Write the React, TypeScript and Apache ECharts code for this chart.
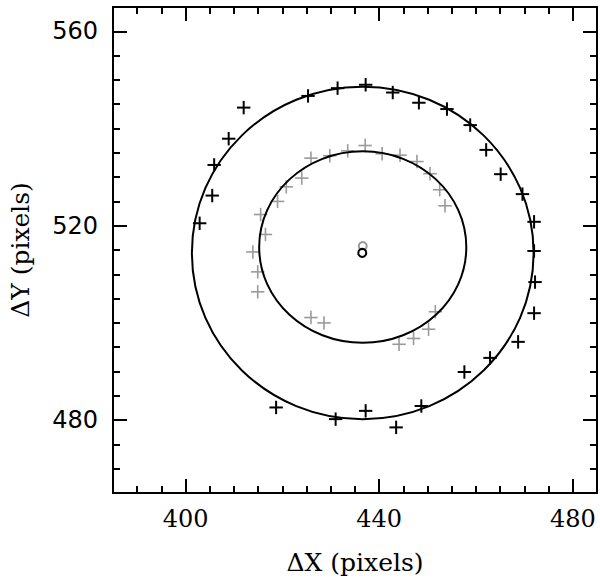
import React, { useEffect, useRef } from 'react';
import * as echarts from 'echarts';

const xRange = [385, 485];
const yRange = [465, 565];
const xMajorTicks = [400, 440, 480];
const yMajorTicks = [480, 520, 560];

// black "+" points (outer ring)
const outerPoints = [
  [402.9, 520.5], [405.5, 526.2], [405.9, 532.5], [408.9, 537.9], [412.0, 544.3],
  [425.3, 546.7], [431.4, 548.3], [437.2, 549.0], [442.8, 547.4], [448.2, 545.3],
  [454.0, 544.0], [458.8, 540.7], [462.1, 535.6], [465.1, 530.6], [469.6, 526.5],
  [472.0, 520.8], [472.0, 514.8], [472.2, 508.4], [472.0, 502.0], [468.7, 496.1],
  [462.9, 492.8], [457.6, 489.9], [448.7, 482.9], [443.5, 478.5], [437.2, 481.9],
  [431.0, 480.2], [418.7, 482.6],
];

// grey "+" points (inner ring)
const innerPoints = [
  [413.9, 514.6], [416.5, 518.2], [415.5, 522.3], [419.0, 525.0], [420.8, 528.0],
  [424.0, 529.8], [425.9, 533.9], [429.8, 534.4], [433.5, 535.4], [437.1, 536.5],
  [440.6, 534.8], [444.3, 534.5], [447.8, 533.2], [450.5, 530.7], [452.5, 527.4],
  [453.6, 524.1], [451.6, 502.3], [450.2, 498.7], [447.1, 496.8], [444.1, 495.6],
  [428.6, 500.0], [425.9, 501.1], [414.9, 506.4], [414.9, 510.5],
];

const centerOuter = [[436.5, 514.4]];
const centerInner = [[436.6, 515.8]];

// fitted ellipses: cx, cy, rx, ry (data units)
const ellipseOuter = [[436.6, 514.4, 35.3, 34.2]];
const ellipseInner = [[436.6, 515.6, 21.4, 19.7]];

const SERIF = 'DejaVu Serif';
const SANS = 'DejaVu Sans';

function plusSeries(data: number[][], color: string, width: number) {
  return {
    type: 'custom',
    data,
    encode: { x: 0, y: 1 },
    renderItem: (params: any, api: any) => {
      const p = api.coord([api.value(0), api.value(1)]);
      const h = 6.7;
      return {
        type: 'group',
        children: [
          { type: 'line', shape: { x1: p[0] - h, y1: p[1], x2: p[0] + h, y2: p[1] }, style: { stroke: color, lineWidth: width } },
          { type: 'line', shape: { x1: p[0], y1: p[1] - h, x2: p[0], y2: p[1] + h }, style: { stroke: color, lineWidth: width } },
        ],
      };
    },
    z: 3,
  };
}

function ellipseSeries(data: number[][]) {
  return {
    type: 'custom',
    data,
    encode: { x: 0, y: 1 },
    renderItem: (params: any, api: any) => {
      const c = api.coord([api.value(0), api.value(1)]);
      const s = api.size([api.value(2), api.value(3)]);
      return {
        type: 'ellipse',
        shape: { cx: c[0], cy: c[1], rx: s[0], ry: s[1] },
        style: { fill: 'none', stroke: '#000', lineWidth: 2 },
      };
    },
    z: 4,
  };
}

function circleSeries(data: number[][], color: string) {
  return {
    type: 'custom',
    data,
    encode: { x: 0, y: 1 },
    renderItem: (params: any, api: any) => {
      const c = api.coord([api.value(0), api.value(1)]);
      return {
        type: 'circle',
        shape: { cx: c[0], cy: c[1], r: 4 },
        style: { fill: '#fff', stroke: color, lineWidth: 2 },
      };
    },
    z: 5,
  };
}

function xAxes() {
  const common = { type: 'value', min: xRange[0], max: xRange[1], splitLine: { show: false }, gridIndex: 0 };
  return [
    {
      ...common, position: 'bottom', interval: 5,
      axisLine: { show: true, lineStyle: { color: '#000', width: 2 } },
      axisTick: { show: true, inside: true, length: 7, lineStyle: { color: '#000', width: 2 } },
      axisLabel: {
        show: true, margin: 14, fontFamily: SERIF, fontSize: 24, color: '#000',
        formatter: (v: number) => (xMajorTicks.includes(v) ? String(v) : ''),
      },
      name: 'ΔX (pixels)', nameLocation: 'middle', nameGap: 57,
      nameTextStyle: { fontFamily: SERIF, fontSize: 25, color: '#000' },
    },
    {
      ...common, position: 'bottom',
      axisLine: { show: false },
      axisTick: { show: true, inside: true, length: 14, customValues: xMajorTicks, lineStyle: { color: '#000', width: 2 } },
      axisLabel: { show: false },
    },
    {
      ...common, position: 'top', interval: 5,
      axisLine: { show: true, lineStyle: { color: '#000', width: 2 } },
      axisTick: { show: true, inside: true, length: 7, lineStyle: { color: '#000', width: 2 } },
      axisLabel: { show: false },
    },
    {
      ...common, position: 'top',
      axisLine: { show: false },
      axisTick: { show: true, inside: true, length: 14, customValues: xMajorTicks, lineStyle: { color: '#000', width: 2 } },
      axisLabel: { show: false },
    },
  ];
}

function yAxes() {
  const common = { type: 'value', min: yRange[0], max: yRange[1], splitLine: { show: false }, gridIndex: 0 };
  return [
    {
      ...common, position: 'left', interval: 5,
      axisLine: { show: true, lineStyle: { color: '#000', width: 2 } },
      axisTick: { show: true, inside: true, length: 7, lineStyle: { color: '#000', width: 2 } },
      axisLabel: {
        show: true, margin: 15, fontFamily: SANS, fontSize: 24, color: '#000',
        formatter: (v: number) => (yMajorTicks.includes(v) ? String(v) : ''),
      },
      name: 'ΔY (pixels)', nameLocation: 'middle', nameGap: 80,
      nameTextStyle: { fontFamily: SERIF, fontSize: 25, color: '#000' },
    },
    {
      ...common, position: 'left',
      axisLine: { show: false },
      axisTick: { show: true, inside: true, length: 14, customValues: yMajorTicks, lineStyle: { color: '#000', width: 2 } },
      axisLabel: { show: false },
    },
    {
      ...common, position: 'right', interval: 5,
      axisLine: { show: true, lineStyle: { color: '#000', width: 2 } },
      axisTick: { show: true, inside: true, length: 7, lineStyle: { color: '#000', width: 2 } },
      axisLabel: { show: false },
    },
    {
      ...common, position: 'right',
      axisLine: { show: false },
      axisTick: { show: true, inside: true, length: 14, customValues: yMajorTicks, lineStyle: { color: '#000', width: 2 } },
      axisLabel: { show: false },
    },
  ];
}

export default function App() {
  const ref = useRef<HTMLDivElement>(null);
  useEffect(() => {
    if (!ref.current) return;
    const chart = echarts.init(ref.current, undefined, { renderer: 'svg' });
    chart.setOption({
      animation: false,
      backgroundColor: '#fff',
      grid: { left: 111, top: 7, width: 486, height: 486, containLabel: false },
      xAxis: xAxes(),
      yAxis: yAxes(),
      series: [
        plusSeries(innerPoints, '#9a9a9a', 1.6),
        plusSeries(outerPoints, '#000', 2),
        ellipseSeries(ellipseOuter),
        ellipseSeries(ellipseInner),
        circleSeries(centerInner, '#9a9a9a'),
        circleSeries(centerOuter, '#000'),
      ],
    });
    return () => chart.dispose();
  }, []);
  return (
    <div
      ref={ref}
      style={{ position: 'fixed', left: 0, top: 0, width: 600, height: 580, background: '#fff' }}
    />
  );
}
